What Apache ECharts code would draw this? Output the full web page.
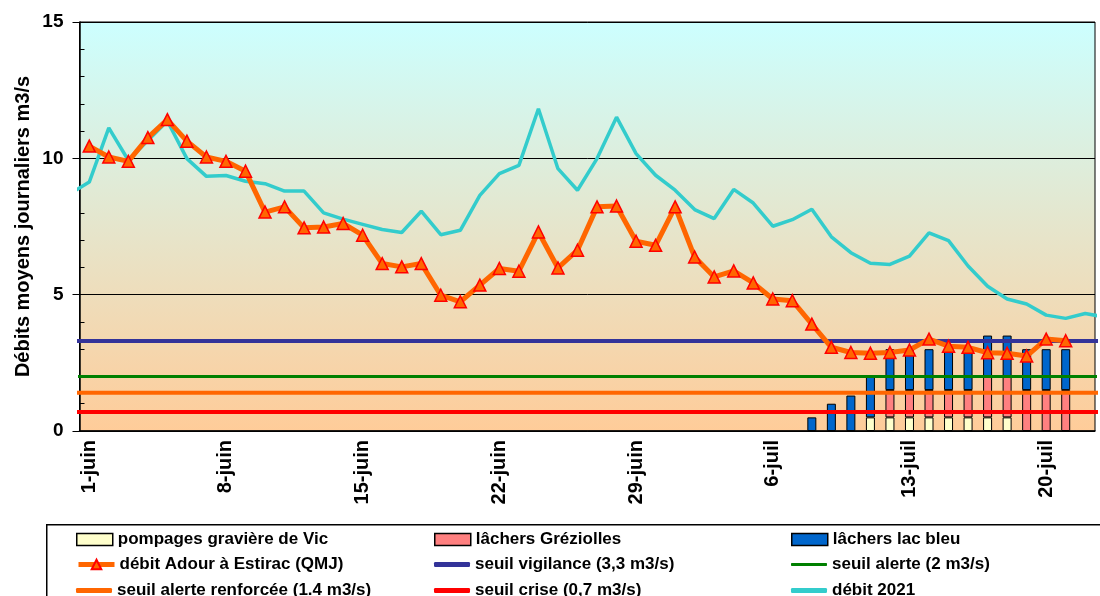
<!DOCTYPE html>
<html>
<head>
<meta charset="utf-8">
<script src="https://cdn.jsdelivr.net/npm/echarts@6/dist/echarts.min.js"></script>
<style>
  html, body { margin: 0; padding: 0; background: #fff; }
  #chart { width: 1100px; height: 596px; }
</style>
</head>
<body>
<div id="chart"></div>
<script>
// jours : 1-juin ... 22-juil
var juinDays = 30, juilDays = 22;
var dates = [];
for (var i = 1; i <= juinDays; i++) dates.push(i + '-juin');
for (var j = 1; j <= juilDays; j++) dates.push(j + '-juil');

// débit Adour à Estirac (QMJ), 1-juin -> 21-juil
var debitAdour = [10.45, 10.05, 9.89, 10.76, 11.42, 10.63, 10.05, 9.89, 9.53, 8.03,
  8.22, 7.45, 7.48, 7.61, 7.18, 6.14, 6.02, 6.14, 4.98, 4.74,
  5.35, 5.96, 5.86, 7.3, 5.98, 6.63, 8.22, 8.25, 6.96, 6.81,
  8.22, 6.38, 5.65, 5.87, 5.43, 4.84, 4.78, 3.92, 3.07, 2.88,
  2.85, 2.88, 2.97, 3.37, 3.11, 3.07, 2.87, 2.85, 2.75, 3.37, 3.31, null];

// débit 2021, du 31-mai (jour -1) au 23-juil (jour 52)
var debit2021Days = [];
for (var d = -1; d <= 52; d++) debit2021Days.push(d);
var debit2021 = [8.7, 9.13, 11.12, 9.93, 10.65, 11.37, 9.99, 9.34, 9.37, 9.16, 9.07,
  8.8, 8.8, 8.0, 7.77, 7.58, 7.39, 7.28, 8.06, 7.2, 7.36,
  8.64, 9.44, 9.74, 11.82, 9.62, 8.83, 9.99, 11.51, 10.17, 9.38,
  8.83, 8.12, 7.79, 8.86, 8.36, 7.51, 7.75, 8.13, 7.12, 6.54,
  6.15, 6.11, 6.41, 7.27, 6.98, 6.05, 5.31, 4.84, 4.66, 4.25,
  4.13, 4.31, 4.18];

// lâchers / pompages (colonnes empilées), 1-juin -> 22-juil
var n = dates.length;
function col(start, vals) {
  var a = [];
  for (var k = 0; k < n; k++) a.push(null);
  for (var m = 0; m < vals.length; m++) a[start + m] = vals[m];
  return a;
}
var pompagesVic = col(40, [0.5, 0.5, 0.5, 0.5, 0.5, 0.5, 0.5, 0.5]);
var lachersGreziolles = col(41, [1.0, 1.0, 1.0, 1.0, 1.0, 1.5, 1.5, 1.5, 1.5, 1.5]);
var lachersLacBleu = col(37, [0.5, 1.0, 1.3, 1.5, 1.5, 1.5, 1.5, 1.5, 1.5, 1.5, 1.5, 1.5, 1.5, 1.5]);

// seuils
var seuilNames = ['seuil vigilance (3,3 m3/s)', 'seuil alerte (2 m3/s)', 'seuil alerte renforcée (1.4 m3/s)', 'seuil crise (0,7 m3/s)'];
var seuilValues = [3.3, 2, 1.4, 0.7];
var seuilColors = ['#333399', '#008000', '#ff6600', '#ff0000'];
var seuilWidths = [4, 3, 4, 4];

var font = 'Liberation Sans, Arial, sans-serif';
var chart = echarts.init(document.getElementById('chart'));

var series = [];
function barSerie(name, data, color) {
  return {
    name: name, type: 'bar', stack: 'q', data: data, barWidth: 9,
    xAxisIndex: 0, yAxisIndex: 0, z: 2,
    itemStyle: { color: color, borderColor: '#000', borderWidth: 1 }
  };
}
series.push(barSerie('pompages gravière de Vic', pompagesVic, '#ffffcc'));
series.push(barSerie('lâchers Gréziolles', lachersGreziolles, '#ff8080'));
series.push(barSerie('lâchers lac bleu', lachersLacBleu, '#0066cc'));

seuilValues.forEach(function (v, idx) {
  series.push({
    name: seuilNames[idx], type: 'line', xAxisIndex: 2, yAxisIndex: 0,
    data: [[debit2021Days[0], v], [debit2021Days[debit2021Days.length - 1], v]],
    symbol: 'none', clip: false, z: 3,
    itemStyle: { color: seuilColors[idx] },
    lineStyle: { color: seuilColors[idx], width: seuilWidths[idx] }
  });
});

series.push({
  name: 'débit 2021', type: 'line', xAxisIndex: 2, yAxisIndex: 0,
  data: debit2021Days.map(function (x, k) { return [x, debit2021[k]]; }),
  symbol: 'none', clip: false, z: 4,
  itemStyle: { color: '#33cccc' },
  lineStyle: { color: '#33cccc', width: 3.5 }
});

series.push({
  name: 'débit Adour à Estirac (QMJ)', type: 'line', xAxisIndex: 0, yAxisIndex: 0,
  data: debitAdour, symbol: 'triangle', symbolSize: 12, z: 5,
  itemStyle: { color: '#ff6600', borderColor: '#ff0000', borderWidth: 1.5 },
  lineStyle: { color: '#ff6600', width: 5 }
});

// légende : 3 colonnes x 3 lignes
var legendCols = [76, 434, 791];
var legendRows = [531, 556, 582];
var legendItems = [
  ['pompages gravière de Vic', 0, 0, 'box'],
  ['lâchers Gréziolles', 1, 0, 'box'],
  ['lâchers lac bleu', 2, 0, 'box'],
  ['débit Adour à Estirac (QMJ)', 0, 1, 'marker'],
  ['seuil vigilance (3,3 m3/s)', 1, 1, 'line'],
  ['seuil alerte (2 m3/s)', 2, 1, 'line'],
  ['seuil alerte renforcée (1.4 m3/s)', 0, 2, 'line'],
  ['seuil crise (0,7 m3/s)', 1, 2, 'line'],
  ['débit 2021', 2, 2, 'line']
];
var legends = legendItems.map(function (it) {
  var lg = {
    orient: 'horizontal', left: legendCols[it[1]], top: legendRows[it[2]], padding: 0,
    itemWidth: 36, itemHeight: 12, itemGap: 0,
    textStyle: { fontFamily: font, fontWeight: 'bold', fontSize: 17, color: '#000', lineHeight: 17 },
    data: [it[0]]
  };
  if (it[3] === 'box') {
    lg.itemStyle = { borderColor: '#000', borderWidth: 1.5 };
    lg.data = [{ name: it[0], icon: 'rect' }];
  } else if (it[3] === 'line') {
    lg.itemHeight = it[0] === 'seuil alerte (2 m3/s)' ? 3 : 5;
    lg.data = [{ name: it[0], icon: 'roundRect' }];
    lg.itemStyle = { borderWidth: 0 };
  } else {
    lg.lineStyle = { width: 5 };
  }
  return lg;
});

var option = {
  animation: false,
  backgroundColor: '#fff',
  grid: {
    left: 79.5, top: 22, right: 5, bottom: 165, outerBoundsMode: 'none',
    show: true, borderColor: '#000', borderWidth: 1,
    backgroundColor: new echarts.graphic.LinearGradient(0, 0, 0, 1, [
      { offset: 0, color: '#ccffff' },
      { offset: 1, color: '#ffcc99' }
    ])
  },
  legend: legends,
  graphic: [{
    type: 'rect', left: 46, top: 524, z: -1,
    shape: { width: 1100, height: 100 },
    style: { fill: '#fff', stroke: '#000', lineWidth: 1.5 }
  }],
  xAxis: [{
    type: 'category', data: dates, boundaryGap: true, position: 'bottom',
    axisLine: { onZero: false, lineStyle: { color: '#000', width: 1.5 } },
    axisTick: { interval: function (i) { return i % 7 === 0; }, length: 8, lineStyle: { color: '#000' } },
    axisLabel: {
      interval: function (i) { return i % 7 === 0; }, rotate: 90, margin: 9,
      fontFamily: font, fontWeight: 'bold', fontSize: 20, color: '#000'
    },
    splitLine: { show: false }
  }, {
    type: 'category', data: dates, boundaryGap: true, position: 'bottom',
    axisLine: { show: false, onZero: false },
    axisTick: { inside: true, interval: 0, length: 5, lineStyle: { color: '#000' } },
    axisLabel: { show: false }, splitLine: { show: false }
  }, {
    type: 'value', min: -0.5, max: n - 0.5, show: false,
    axisLine: { onZero: false }
  }],
  yAxis: [{
    type: 'value', min: 0, max: 15, interval: 5, position: 'left',
    name: 'Débits moyens journaliers m3/s', nameLocation: 'middle', nameGap: 46,
    nameMoveOverlap: false,
    nameTextStyle: { fontFamily: font, fontWeight: 'bold', fontSize: 20, color: '#000' },
    axisLine: { show: true, onZero: false, lineStyle: { color: '#000', width: 1.5 } },
    axisTick: { show: true, length: 7, lineStyle: { color: '#000' } },
    axisLabel: { margin: 16, fontFamily: font, fontWeight: 'bold', fontSize: 19, color: '#000' },
    splitLine: { show: true, lineStyle: { color: '#000', width: 1 } }
  }, {
    type: 'value', min: 0, max: 15, interval: 1, position: 'left',
    axisLine: { show: false, onZero: false },
    axisTick: { show: true, inside: true, length: 5, lineStyle: { color: '#000' } },
    axisLabel: { show: false }, splitLine: { show: false }
  }],
  series: series
};

chart.setOption(option);
</script>
</body>
</html>
